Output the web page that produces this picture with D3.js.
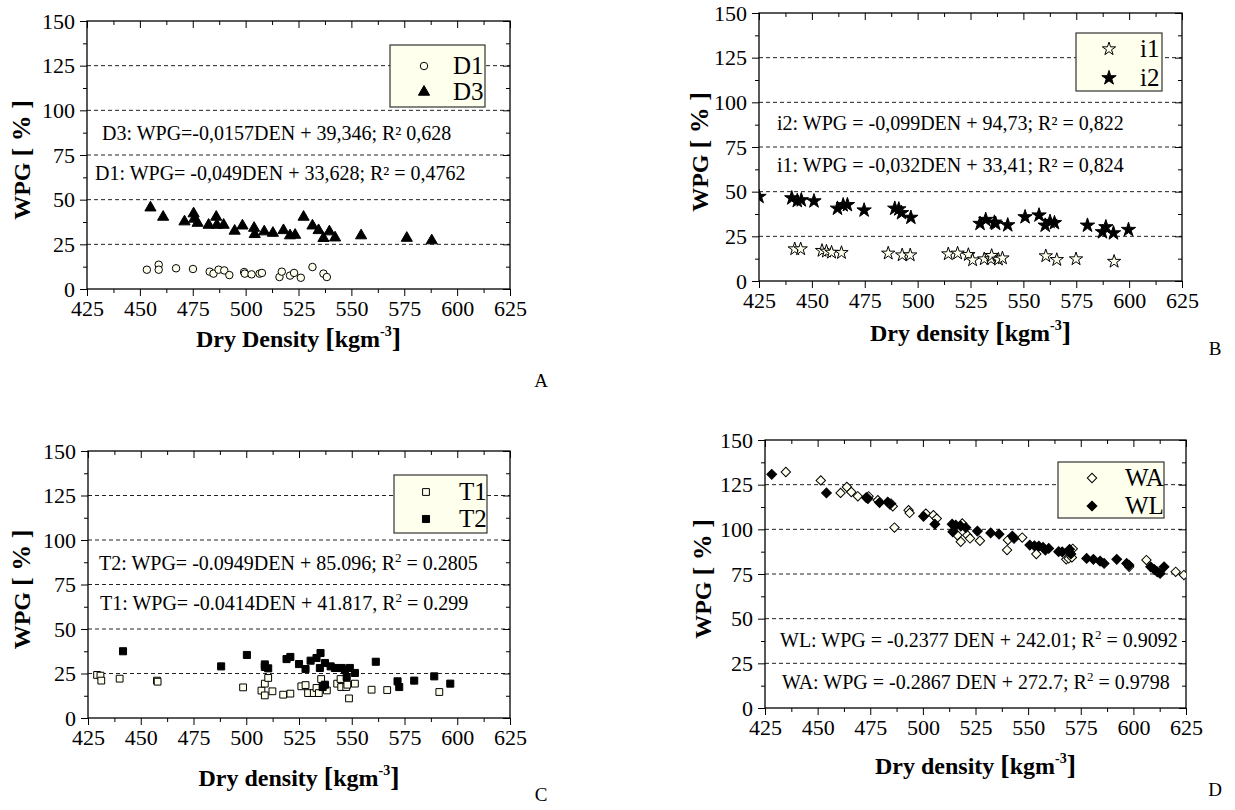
<!DOCTYPE html>
<html>
<head>
<meta charset="utf-8">
<script src="https://cdn.jsdelivr.net/npm/d3@7"></script>
<style>
body{margin:0;background:#fff;}
svg text{font-family:"Liberation Serif","Times New Roman",serif;fill:#000;}
</style>
</head>
<body>
<div id="chart"></div>
<script>
var W=1235, H=810;
var cream="#ffffee";
var serif="'Liberation Serif','Times New Roman',serif";

var xTicks=[425,450,475,500,525,550,575,600,625];
var yTicks=[0,25,50,75,100,125,150];
var gridVals=[25,50,75,100,125];

// panel A
var D1=[[453.3,10.8],[458.9,13.6],[458.9,10.8],[467.1,11.6],[475.1,11.2],[483,9.7],[484.8,8.6],[487.2,10.8],[489.9,10.4],[492.3,7.8],[499.3,9.5],[499.6,8.6],[502.8,8.2],[506.6,8.6],[507.7,9.0],[516,6.7],[517.1,9.7],[521,7.5],[522.9,9.0],[526.1,6.3],[531.6,12.3],[536.8,8.6],[538.4,6.7]];
var D3=[[455,45.5],[461,40.3],[471.1,37.7],[475.4,42.2],[475.7,39.2],[477.3,36.9],[482.5,35.8],[486.1,40.3],[486.4,35.8],[489.6,35.8],[494.8,32.5],[498.5,35.4],[504,34.1],[504.3,30.6],[508.8,32.1],[512.9,31.3],[517.9,32.8],[521,29.9],[523.4,30.2],[527.4,40.3],[531.6,35.4],[534.5,32.8],[536.8,28.4],[539.6,32.1],[542.3,28.7],[554.6,29.9],[576.2,28.5],[588,27.1]];

// panel B
var I1=[[441.9,17.9],[444.7,17.9],[454.8,17.0],[456.9,16.6],[459.3,16.0],[464,15.8],[486.1,15.5],[492.7,14.5],[496.5,14.5],[514.5,15.1],[518.9,15.5],[524,14.7],[526,11.7],[531.5,12.3],[534.7,12.3],[535,14.2],[538.2,12.1],[540.1,12.8],[560.6,14.0],[565.8,11.9],[574.9,12.3],[592.9,10.9]];
var I2=[[425,47.2],[440.5,46.4],[443.1,44.9],[445,45.3],[451,44.7],[462.1,40.6],[464.8,42.5],[466.8,42.6],[474.7,39.6],[489.2,40.6],[491.1,40.2],[492.4,38.1],[496.8,35.5],[529.5,32.1],[532.2,34.3],[536.3,32.8],[536.9,32.1],[542.6,31.3],[550.8,35.8],[557.4,36.8],[560.3,31.1],[562.6,33.2],[564.7,32.5],[580.3,31.1],[587.4,27.4],[589,30.2],[592.6,26.8],[599.7,28.7]];

// panel C
var T1=[[429.3,24.2],[430.9,23.8],[431.3,21.0],[440,22.1],[457.7,21.0],[458,20.4],[498.5,17.2],[507.2,15.4],[508.8,19.3],[508.8,12.7],[510.4,22.5],[512.4,15.0],[517.5,13.1],[520.9,13.7],[526.1,17.8],[528.1,18.5],[529.3,14.0],[532,14.0],[533.3,16.9],[534.4,14.0],[535.5,21.9],[538.2,15.5],[543.1,19.3],[544.7,21.9],[545,17.4],[547.4,17.4],[547.9,18.7],[548.7,11.0],[551.5,19.3],[559.4,15.9],[566.8,15.7],[591.5,14.6]];
var T2=[[441.6,37.5],[488.1,29.0],[500.3,35.4],[508.8,30.1],[508.8,28.7],[510.4,27.9],[519.1,33.1],[520.9,34.3],[525,30.3],[528.1,27.5],[530.5,32.2],[533.3,33.7],[535.2,36.5],[534.9,28.1],[537.3,30.9],[540,29.0],[542,28.1],[545.2,28.1],[546.8,27.2],[549.1,28.1],[551.5,25.3],[547.6,23.0],[537.3,18.7],[536.2,17.4],[561.4,31.6],[571.7,20.6],[572.5,17.4],[579.6,21.0],[589.1,23.4],[596.7,19.3]];

// panel D
var WA=[[434.9,132.1],[451.5,127.4],[460.9,120.4],[463.9,123.7],[466,120.9],[469.1,118.5],[474.2,118.5],[478.6,116.3],[484.9,114.4],[485.7,112.9],[486.5,101.0],[493.2,110.7],[493.7,109.2],[501.4,108.8],[505,107.9],[506.6,106.0],[516.4,96.7],[518,93.0],[518.7,103.3],[521.1,96.7],[522.4,94.9],[527.1,93.6],[540,88.4],[540.4,94.0],[547.2,95.4],[553.9,86.2],[568.1,83.2],[569.3,83.7],[571.2,89.1],[570.8,84.3],[598,79],[606.2,82.8],[620.1,76.2],[624,74.4]];
var WL=[[428.2,130.8],[454.2,120.4],[473.1,117.8],[473.9,117.2],[479.4,115.0],[483.3,115.3],[484.4,114.0],[500.3,107.3],[505.7,102.9],[513.9,102.9],[514.2,98.6],[515.6,102.3],[518,101.8],[520.4,101.0],[525.9,99.0],[532.2,98.0],[536.2,97.3],[542.5,96.2],[543.3,94.9],[550.8,91.2],[553,90.8],[555.1,90.6],[557.1,89.9],[558.2,88.4],[559.8,89.3],[564.5,87.5],[566.2,87.4],[569.7,88.8],[570.3,86.2],[577.8,83.7],[581,83.2],[584.2,82.2],[586.1,80.9],[592.1,83.2],[596.8,80.9],[597.9,80.0],[608.2,79],[610,77.5],[611.4,76.2],[612.7,75.3],[614.6,79]];

var svg=d3.select("#chart").append("svg")
  .attr("width",W).attr("height",H)
  .style("background","#fff");

var mk={
  circle:{type:d3.symbolCircle,size:44,fill:cream,rot:0},
  triangle:{type:d3.symbolTriangle,size:54,fill:"#000",rot:0},
  starOpen:{type:d3.symbolStar,size:55,fill:cream,rot:0},
  star:{type:d3.symbolStar,size:64,fill:"#000",rot:0},
  squareOpen:{type:d3.symbolSquare,size:46,fill:cream,rot:0},
  square:{type:d3.symbolSquare,size:50,fill:"#000",rot:0},
  diamondOpen:{type:d3.symbolSquare,size:44,fill:cream,rot:45},
  diamond:{type:d3.symbolSquare,size:48,fill:"#000",rot:45}
};

function txt(sel,size,bold){
  return sel.append("text")
    .style("font-family",serif)
    .style("font-size",size+"px")
    .style("font-weight",bold?"bold":"normal")
    .style("fill","#000");
}

function drawMark(sel,m,x,y){
  sel.append("path")
    .attr("d",d3.symbol().type(m.type).size(m.size)())
    .attr("transform","translate("+x+","+y+") rotate("+m.rot+")")
    .attr("fill",m.fill)
    .attr("stroke","#000")
    .attr("stroke-width",1);
}

function eqText(g,e){
  var t=txt(g,20).attr("x",e.x).attr("y",e.y+7);
  if(e.sup){
    t.append("tspan").text(e.a);
    t.append("tspan").text("2").style("font-size","13px").attr("dy",-8);
    t.append("tspan").text(e.b).attr("dy",8);
  } else {
    t.text(e.a);
  }
}

function panel(p,idx){
  var x=d3.scaleLinear().domain([425,625]).range([p.left,p.right]);
  var y=d3.scaleLinear().domain([0,150]).range([p.bottom,p.top]);
  var g=svg.append("g");

  g.append("clipPath").attr("id","clip"+idx).append("rect")
    .attr("x",p.left).attr("y",p.top).attr("width",p.right-p.left).attr("height",p.bottom-p.top);

  g.selectAll(".grid").data(gridVals).enter().append("line")
    .attr("x1",p.left).attr("x2",p.right)
    .attr("y1",function(d){return y(d);}).attr("y2",function(d){return y(d);})
    .attr("stroke","#222").attr("stroke-width",1).attr("stroke-dasharray","4,3");

  // ticks
  var xMinor=d3.range(437.5,625,25), yMinor=d3.range(12.5,150,25);
  function ax(a,vals,size,lab){
    var s=a.tickValues(vals).tickSize(size).tickSizeOuter(0);
    if(!lab) s.tickFormat("");
    return s;
  }
  g.append("g").attr("transform","translate(0,"+p.bottom+")").call(ax(d3.axisBottom(x),xTicks,7,true).tickPadding(4));
  g.append("g").attr("transform","translate(0,"+p.bottom+")").call(ax(d3.axisBottom(x),xMinor,4,false));
  g.append("g").attr("transform","translate(0,"+p.top+")").call(ax(d3.axisTop(x),xTicks,-7,false));
  g.append("g").attr("transform","translate(0,"+p.top+")").call(ax(d3.axisTop(x),xMinor,-4,false));
  g.append("g").attr("transform","translate("+p.left+",0)").call(ax(d3.axisLeft(y),yTicks,7,true).tickPadding(5));
  g.append("g").attr("transform","translate("+p.left+",0)").call(ax(d3.axisLeft(y),yMinor,4,false));
  g.append("g").attr("transform","translate("+p.right+",0)").call(ax(d3.axisRight(y),yTicks,-7,false));
  g.append("g").attr("transform","translate("+p.right+",0)").call(ax(d3.axisRight(y),yMinor,-4,false));
  g.selectAll(".domain").remove();
  g.selectAll(".tick line").attr("stroke","#000");
  g.selectAll(".tick text")
    .style("font-family",serif).style("font-size","22px").style("fill","#000");

  g.append("rect").attr("x",p.left).attr("y",p.top)
    .attr("width",p.right-p.left).attr("height",p.bottom-p.top)
    .attr("fill","none").attr("stroke","#000").attr("stroke-width",1.3);

  // points
  var pts=g.append("g").attr("clip-path","url(#clip"+idx+")");
  p.series.forEach(function(s){
    pts.selectAll(null).data(s.data).enter().append("path")
      .attr("d",d3.symbol().type(s.m.type).size(s.m.size)())
      .attr("transform",function(d){return "translate("+x(d[0])+","+y(d[1])+") rotate("+s.m.rot+")";})
      .attr("fill",s.m.fill).attr("stroke","#000").attr("stroke-width",1);
  });

  // legend
  var L=p.legend;
  g.append("rect").attr("x",L.x).attr("y",L.y).attr("width",L.w).attr("height",L.h)
    .attr("fill",cream).attr("stroke","#333").attr("stroke-width",1.2);
  p.series.forEach(function(s,i){
    drawMark(g,s.m,L.mx,L.rows[i]);
    txt(g,25).attr("x",L.tx).attr("y",L.rows[i]+8).text(s.name);
  });

  p.eqs.forEach(function(e){eqText(g,e);});

  // axis titles
  var xt=txt(g,24,true).attr("x",(p.left+p.right)/2).attr("y",p.bottom+p.xlabDy+8)
    .attr("text-anchor","middle");
  xt.append("tspan").text(p.xlab+" ");
  xt.append("tspan").text("[").style("font-size","28px");
  xt.append("tspan").text("kgm");
  xt.append("tspan").text("-3").style("font-size","14px").attr("dy",-11);
  xt.append("tspan").text("]").style("font-size","28px").attr("dy",11);

  var yt=txt(g,24,true).attr("text-anchor","middle")
    .attr("transform","translate("+(p.ylabX+8)+","+((p.top+p.bottom)/2+5)+") rotate(-90)");
  yt.append("tspan").text("WPG ");
  yt.append("tspan").text("[ % ]").style("font-size","26px");

  txt(g,19).attr("x",p.letter[0]).attr("y",p.letter[1]).attr("text-anchor","middle").text(p.letter[2]);
}

var panels=[
  {left:87,right:510,top:21,bottom:289,xlab:"Dry Density",xlabDy:50,ylabX:22,letter:[541,387,"A"],
   series:[{name:"D1",data:D1,m:mk.circle},{name:"D3",data:D3,m:mk.triangle}],
   legend:{x:390,y:45,w:95,h:62,mx:424,tx:453,rows:[66,92]},
   eqs:[{x:102,y:133,a:"D3: WPG=-0,0157DEN + 39,346; R\u00b2 0,628"},
        {x:95,y:173,a:"D1: WPG= -0,049DEN + 33,628; R\u00b2 = 0,4762"}]},
  {left:759,right:1182,top:13,bottom:281,xlab:"Dry density",xlabDy:52,ylabX:700,letter:[1215,355,"B"],
   series:[{name:"i1",data:I1,m:mk.starOpen},{name:"i2",data:I2,m:mk.star}],
   legend:{x:1076,y:33,w:86,h:58,mx:1109,tx:1140,rows:[49,78]},
   eqs:[{x:777,y:123,a:"i2: WPG = -0,099DEN + 94,73; R\u00b2 = 0,822"},
        {x:777,y:165,a:"i1: WPG = -0,032DEN + 33,41; R\u00b2 = 0,824"}]},
  {left:88,right:510,top:451,bottom:718,xlab:"Dry density",xlabDy:60,ylabX:22,letter:[541,801,"C"],
   series:[{name:"T1",data:T1,m:mk.squareOpen},{name:"T2",data:T2,m:mk.square}],
   legend:{x:394,y:475,w:93,h:58,mx:426,tx:459,rows:[492,519]},
   eqs:[{x:99,y:563,sup:true,a:"T2: WPG= -0.0949DEN + 85.096; R",b:" = 0.2805"},
        {x:100,y:603,sup:true,a:"T1: WPG= -0.0414DEN + 41.817, R",b:" = 0.299"}]},
  {left:765,right:1186,top:440,bottom:708,xlab:"Dry density",xlabDy:58,ylabX:703,letter:[1215,796,"D"],
   series:[{name:"WA",data:WA,m:mk.diamondOpen},{name:"WL",data:WL,m:mk.diamond}],
   legend:{x:1058,y:462,w:106,h:56,mx:1092,tx:1125,rows:[478,506]},
   eqs:[{x:780,y:640,sup:true,a:"WL: WPG = -0.2377 DEN + 242.01; R",b:" = 0.9092"},
        {x:782,y:682,sup:true,a:"WA: WPG = -0.2867 DEN + 272.7; R",b:" = 0.9798"}]}
];

panels.forEach(function(p,i){panel(p,i);});
</script>
</body>
</html>
